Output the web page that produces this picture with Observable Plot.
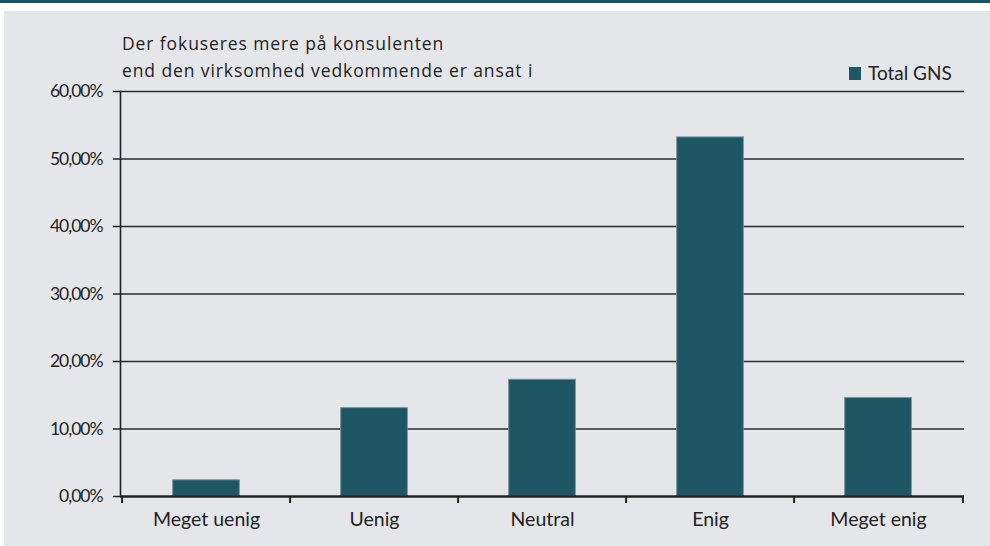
<!DOCTYPE html>
<html>
<head>
<meta charset="utf-8">
<script src="https://cdn.jsdelivr.net/npm/d3@7"></script>
<script src="https://cdn.jsdelivr.net/npm/@observablehq/plot@0.6"></script>
<style>
  html, body { margin: 0; padding: 0; background: #ffffff; }
  #wrap { position: relative; width: 990px; height: 546px; overflow: hidden; font-family: Lato, "Open Sans", sans-serif; color: #222; }
  #topbar { position: absolute; left: 0; top: 0; width: 990px; height: 3px; background: #175864; }
  #panel { position: absolute; left: 4px; top: 11px; width: 986px; height: 535px; background: #e5e6ea; }
  #chart { position: absolute; left: 0; top: 0; }
  #title { position: absolute; left: 122px; top: 30px; font-family: "Open Sans", Lato, sans-serif; font-size: 17.5px; line-height: 26.5px; letter-spacing: 0.9px; white-space: nowrap; }
  #legend { position: absolute; left: 849px; top: 58.6px; font-size: 19px; line-height: 28px; white-space: nowrap; }
  #legend .sw { display: inline-block; width: 12px; height: 13px; background: #1f5663; margin-right: 7px; vertical-align: baseline; }
  #chart g[aria-label="y-axis tick label"] text { letter-spacing: -1px; }
</style>
</head>
<body>
<div id="wrap">
  <div id="topbar"></div>
  <div id="panel"></div>
  <div id="chart"></div>
  <div id="title"></div>
  <div id="legend"></div>
</div>
<script>
const categories = ["Meget uenig", "Uenig", "Neutral", "Enig", "Meget enig"];
const values = [0.024, 0.131, 0.173, 0.532, 0.146];
const yTicks = [0, 0.1, 0.2, 0.3, 0.4, 0.5, 0.6];
const titleLines = ["Der fokuseres mere på konsulenten", "end den virksomhed vedkommende er ansat i"];
const seriesName = "Total GNS";

const data = categories.map((c, i) => ({category: c, value: values[i]}));

const W = 990, H = 546;
const mL = 120, mR = 26, mT = 91, mB = 50;
const bw = (W - mL - mR) / categories.length;
const barColor = "#1f5663";

const fmt = d => (d * 100).toFixed(2).replace(".", ",") + "%";

const chart = Plot.plot({
  width: W,
  height: H,
  marginLeft: mL,
  marginRight: mR,
  marginTop: mT,
  marginBottom: mB,
  style: {fontFamily: "Lato, 'Open Sans', sans-serif", fontSize: "16px", color: "#222", background: "transparent", overflow: "visible"},
  x: {domain: categories, padding: 0, label: null},
  y: {domain: [0, 0.6], label: null},
  marks: [
    Plot.gridY(yTicks.filter(t => t > 0), {stroke: "#2b2b2b", strokeOpacity: 1, strokeWidth: 1.6}),
    Plot.barY(data, {x: "category", y: "value", fill: barColor, stroke: "#6f9aa3", strokeWidth: 1, insetLeft: bw * 0.3, insetRight: bw * 0.3}),
    Plot.axisY({ticks: yTicks, tickFormat: fmt, tickSize: 7, tickPadding: 11, fontSize: 17.5, stroke: "#222", strokeWidth: 1.5, fill: "#222", label: null}),
    Plot.frame({anchor: "left", stroke: "#222", strokeWidth: 1.6}),
    Plot.ruleY([0], {stroke: "#222", strokeWidth: 2.5}),
    Plot.axisX({tickSize: 0, tickPadding: 16, fontSize: 19.5, fill: "#222", label: null}),
    Plot.axisX({tickSize: 7, tickFormat: () => "", dx: -bw / 2, stroke: "#222", strokeWidth: 2, label: null}),
    Plot.axisX({ticks: [categories[categories.length - 1]], tickSize: 7, tickFormat: () => "", dx: bw / 2, stroke: "#222", strokeWidth: 2, label: null})
  ]
});
document.getElementById("chart").appendChild(chart);
document.getElementById("title").innerHTML = titleLines.join("<br>");
document.getElementById("legend").innerHTML = '<span class="sw"></span>' + seriesName;
</script>
</body>
</html>
